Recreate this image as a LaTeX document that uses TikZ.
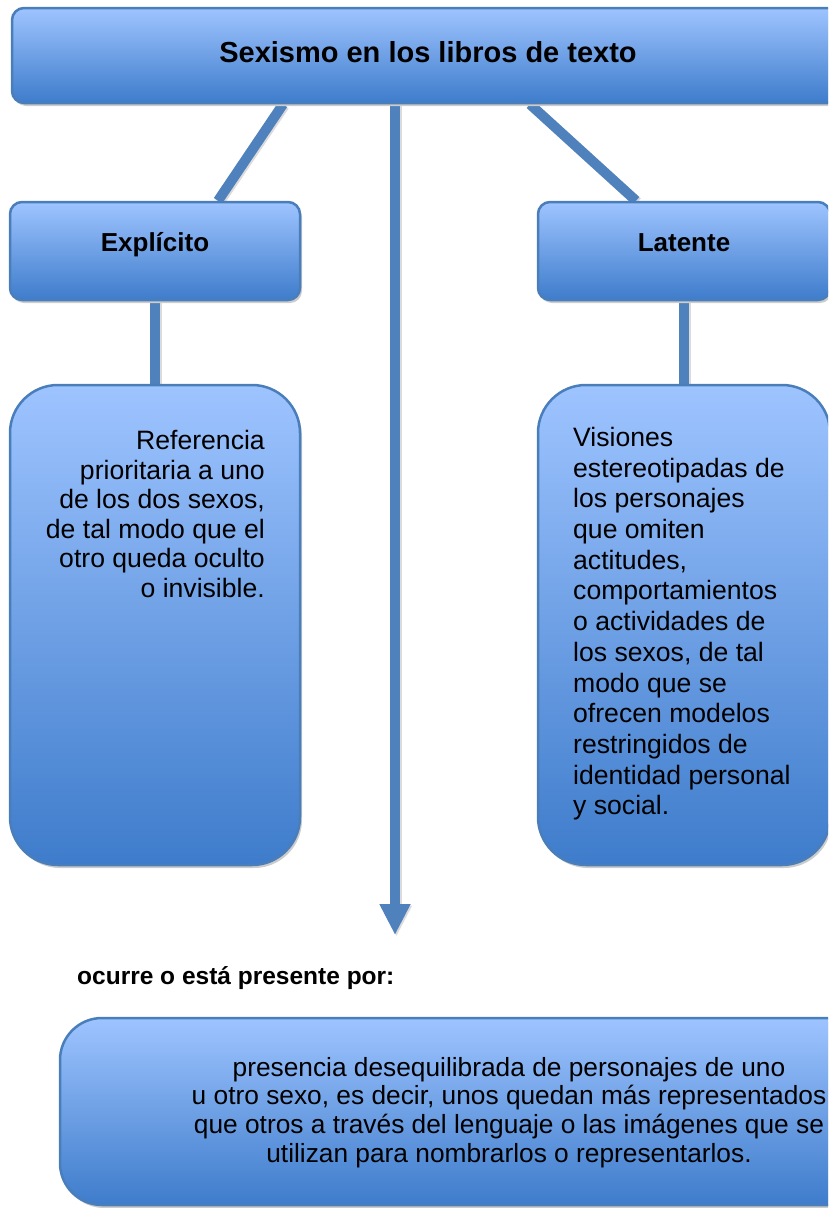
\documentclass[tikz,border=0pt]{standalone}
\usepackage{fontspec}
\setmainfont{Liberation Sans}
\usetikzlibrary{arrows.meta,calc}
\pgfdeclarelayer{bg}
\pgfsetlayers{bg,main}
\definecolor{boxtop}{RGB}{158,196,255}
\definecolor{boxbot}{RGB}{62,124,203}
\definecolor{boxline}{RGB}{74,126,187}
\definecolor{conncol}{RGB}{79,129,189}
\tikzset{
  box/.style={draw=boxline, line width=2.5pt, top color=boxtop, bottom color=boxbot,
    inner sep=0pt, preaction={fill=black!20, transform canvas={shift={(2pt,-3pt)}}}},
  link/.style={draw=conncol, line width=10pt,
    preaction={draw=black!14, line width=10pt, transform canvas={shift={(1.5pt,-1.5pt)}}}},
  headtext/.style={font=\bfseries\fontsize{26}{30}\selectfont, inner sep=0pt, anchor=base},
  bodytext/.style={font=\fontsize{26.6}{30}\selectfont, inner sep=0pt},
}
\begin{document}
\begin{tikzpicture}[x=1pt,y=-1pt]
\useasboundingbox (0,0) rectangle (828,1208);
\clip (0,0) rectangle (828,1208);

% boxes
\node[box, rounded corners=12pt, minimum width=832pt, minimum height=95pt] (title) at (428,55.5) {};
\node[box, rounded corners=12pt, minimum width=290pt, minimum height=98pt] (expl) at (155,251) {};
\node[box, rounded corners=12pt, minimum width=292pt, minimum height=98pt] (lat) at (684,251) {};
\node[box, rounded corners=48pt, minimum width=290pt, minimum height=480pt] (refl) at (155,625) {};
\node[box, rounded corners=48pt, minimum width=292pt, minimum height=480pt] (refr) at (684,625) {};
\node[box, rounded corners=42pt, minimum width=900pt, minimum height=187pt] (pres) at (510,1111.5) {};
\coordinate (arrowend) at (395,935);

% texts
\node[font=\bfseries\fontsize{29}{34}\selectfont, inner sep=0pt] (titletext) at (428,52) {Sexismo en los libros de texto};
\node[headtext] (expltext) at (155,251) {Explícito};
\node[headtext] (lattext) at (684,251) {Latente};
\node[bodytext, anchor=north east, align=right, font=\fontsize{26.6}{29.6}\selectfont] (refltext) at (265,430)
  {Referencia\\prioritaria a uno\\de los dos sexos,\\de tal modo que el\\otro queda oculto\\o invisible.};
\node[bodytext, anchor=north west, align=left, font=\fontsize{26.6}{30.7}\selectfont] (refrtext) at (573,427)
  {Visiones\\estereotipadas de\\los personajes\\que omiten\\actitudes,\\comportamientos\\o actividades de\\los sexos, de tal\\modo que se\\ofrecen modelos\\restringidos de\\identidad personal\\y social.};
\node[font=\bfseries\fontsize{24.5}{28}\selectfont, inner sep=0pt, anchor=west] (occ) at (77,978) {ocurre o está presente por:};
\node[bodytext, anchor=north, align=center, font=\fontsize{26.3}{28.7}\selectfont] (prestext) at (509,1057)
  {presencia desequilibrada de personajes de uno\\u otro sexo, es decir, unos quedan más representados\\que otros a través del lenguaje o las imágenes que se\\utilizan para nombrarlos o representarlos.};

% connectors
\begin{pgfonlayer}{bg}
\draw[link] ([xshift=-145pt]title.south) -- ([xshift=63pt]expl.north);
\draw[link] ([xshift=102pt]title.south) -- ([xshift=-48pt]lat.north);
\draw[link] (expl.south) -- (refl.north);
\draw[link] (lat.south) -- (refr.north);
\draw[link, -{Triangle[width=29pt,length=31pt]}] ([xshift=-33pt]title.south) -- (arrowend);
\end{pgfonlayer}
\end{tikzpicture}
\end{document}
